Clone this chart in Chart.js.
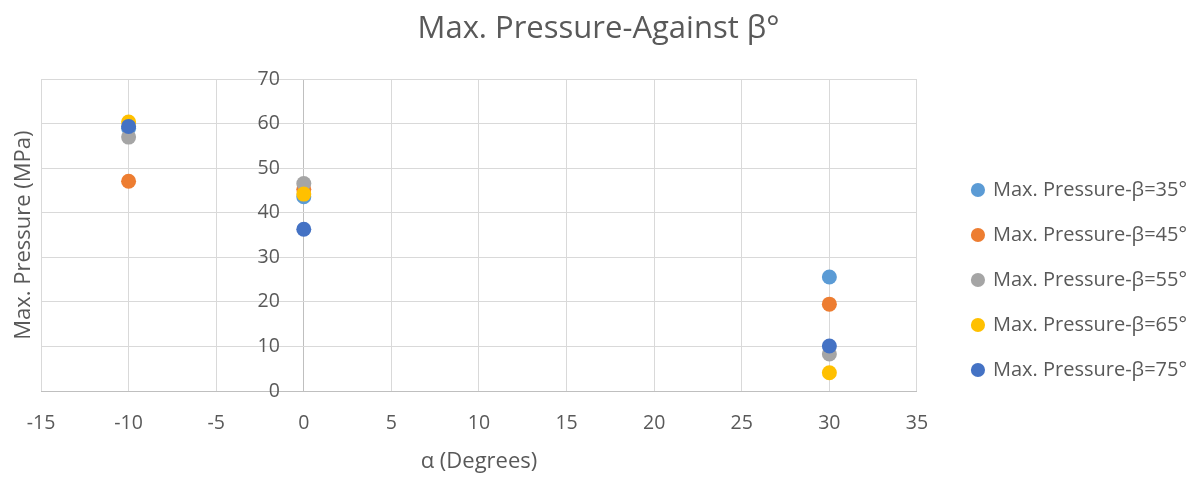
<!DOCTYPE html>
<html>
<head>
<meta charset="utf-8">
<script src="https://cdn.jsdelivr.net/npm/chart.js@4.4.1/dist/chart.umd.min.js"></script>
<style>
html,body{margin:0;padding:0;background:#ffffff;}
#wrap{width:1200px;height:477px;position:relative;}
</style>
</head>
<body>
<div id="wrap"><canvas id="c"></canvas></div>
<script>
// ---- data ----
const alphaDegrees = [-10, 0, 30];
const seriesLabels = ['Max. Pressure-β=35°', 'Max. Pressure-β=45°', 'Max. Pressure-β=55°', 'Max. Pressure-β=65°', 'Max. Pressure-β=75°'];
const beta35 = [59.0, 43.6, 25.6];
const beta45 = [47.1, 45.3, 19.5];
const beta55 = [57.0, 46.6, 8.3];
const beta65 = [60.4, 44.2, 4.1];
const beta75 = [59.4, 36.3, 10.1];
const xTickValues = [-15, -10, -5, 0, 5, 10, 15, 20, 25, 30, 35];
const yTickValues = [0, 10, 20, 30, 40, 50, 60, 70];
const chartTitle = 'Max. Pressure-Against β°';
const xTitle = 'α (Degrees)';
const yTitle = 'Max. Pressure (MPa)';

const seriesValues = [beta35, beta45, beta55, beta65, beta75];
const colors = ['#5B9BD5', '#ED7D31', '#A5A5A5', '#FFC000', '#4472C4'];
const FONT = "'Open Sans', sans-serif";
const TXT = '#595959';

const datasets = seriesValues.map((vals, i) => ({
  label: seriesLabels[i],
  data: alphaDegrees.map((a, j) => ({x: a, y: vals[j]})),
  backgroundColor: colors[i],
  borderColor: colors[i],
  borderWidth: 0,
  pointRadius: 7.5,
  pointHoverRadius: 7.5,
  pointStyle: 'circle',
  order: seriesValues.length - i
}));

new Chart(document.getElementById('c'), {
  type: 'scatter',
  data: {datasets},
  options: {
    responsive: true,
    maintainAspectRatio: false,
    animation: false,
    devicePixelRatio: 1,
    layout: {padding: {left: 0, right: 3, top: 0, bottom: 0}},
    plugins: {
      tooltip: {enabled: false},
      title: {
        display: true,
        text: chartTitle,
        color: TXT,
        font: {family: FONT, size: 31, weight: 'normal'},
        padding: {top: 11, bottom: 31}
      },
      legend: {
        position: 'right',
        align: 'center',
        maxWidth: 320,
        title: {display: true, text: '', font: {family: FONT, size: 10}, padding: {top: 71, bottom: 0}},
        labels: {
          usePointStyle: true,
          boxWidth: 10,
          boxHeight: 10,
          padding: 25,
          color: TXT,
          font: {family: FONT, size: 20},
          sort: (a, b) => a.datasetIndex - b.datasetIndex
        }
      }
    },
    scales: {
      x: {
        type: 'linear',
        position: 'bottom',
        min: xTickValues[0],
        max: xTickValues[xTickValues.length - 1],
        afterBuildTicks: s => { s.ticks = xTickValues.map(v => ({value: v})); },
        ticks: {color: TXT, font: {family: FONT, size: 19.5}, padding: 20.8, maxRotation: 0},
        grid: {
          color: ctx => (ctx.tick && ctx.tick.value === 0) ? '#BFBFBF' : '#D9D9D9',
          lineWidth: 1,
          drawTicks: false
        },
        border: {display: true, color: '#BFBFBF', width: 1},
        title: {display: true, text: xTitle, color: TXT, font: {family: FONT, size: 22}, padding: {top: 0, bottom: 1.8}},
        afterFit: s => { s.height = 86; }
      },
      y: {
        type: 'linear',
        position: {x: -1.37},
        min: yTickValues[0],
        max: yTickValues[yTickValues.length - 1],
        afterBuildTicks: s => { s.ticks = yTickValues.map(v => ({value: v})); },
        ticks: {color: TXT, font: {family: FONT, size: 19.5}, padding: 0},
        grid: {
          color: ctx => (ctx.tick && ctx.tick.value === 0) ? '#BFBFBF' : '#D9D9D9',
          lineWidth: 1,
          drawTicks: false
        },
        border: {display: false}
      },
      yTitleAxis: {
        type: 'linear',
        position: 'left',
        min: 0, max: 70,
        ticks: {display: false},
        grid: {display: false},
        border: {display: false},
        title: {display: true, text: yTitle, color: TXT, font: {family: FONT, size: 22}, padding: {top: 10.8, bottom: 0}},
        afterFit: s => { s.width = 41; }
      },
      legendGap: {
        type: 'linear',
        position: 'right',
        min: 0, max: 70,
        ticks: {display: false},
        grid: {display: false},
        border: {display: false},
        afterFit: s => { s.width = 31; }
      }
    }
  }
});
</script>
</body>
</html>
